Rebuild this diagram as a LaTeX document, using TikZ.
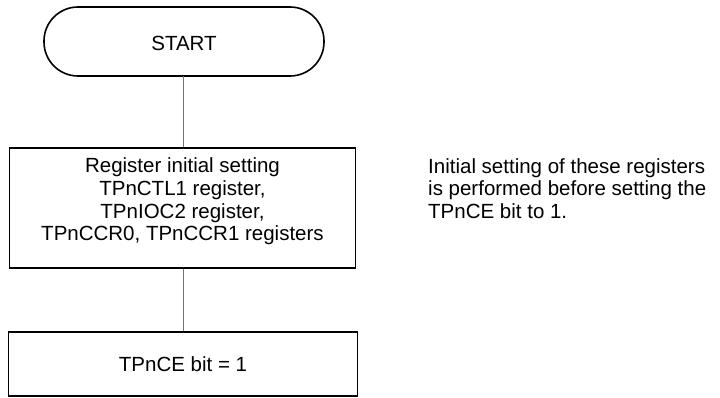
\documentclass[tikz,border=0pt]{standalone}
\usepackage{fontspec}
\setmainfont{Liberation Sans}
\begin{document}
\begin{tikzpicture}[x=1pt,y=-1pt,
  txt/.style={font=\fontsize{20.5}{22.6}\selectfont},
  box/.style={draw=black,line width=1.6pt,rectangle,inner sep=0pt,txt,align=center},
  conn/.style={draw=black!55,line width=1pt}]
\useasboundingbox (0,0) rectangle (720,398);
\node[box,minimum width=346pt,minimum height=120pt] (reg) at (182.5,208) {};
\node[txt,align=center,inner sep=0pt] (regtext) at (182.5,201.5) {Register initial setting\\TPnCTL1 register,\\TPnIOC2 register,\\TPnCCR0, TPnCCR1 registers};
\node[box,minimum width=349pt,minimum height=64pt] (ce) at (183,364) {TPnCE bit = 1};
\draw[line width=1.6pt,rounded corners=34pt] (44,7) rectangle (324,76);
\node[txt] (start) at (184,43) {START};
\coordinate (sb) at (183,76);
\draw[conn] (sb) -- (reg.north -| sb);
\draw[conn] (reg.south -| sb) -- (ce.north -| sb);
\node[anchor=north west,align=left,inner sep=0pt,txt] (note) at (428,158) {Initial setting of these registers\\is performed before setting the\\TPnCE bit to 1.};
\end{tikzpicture}
\end{document}
